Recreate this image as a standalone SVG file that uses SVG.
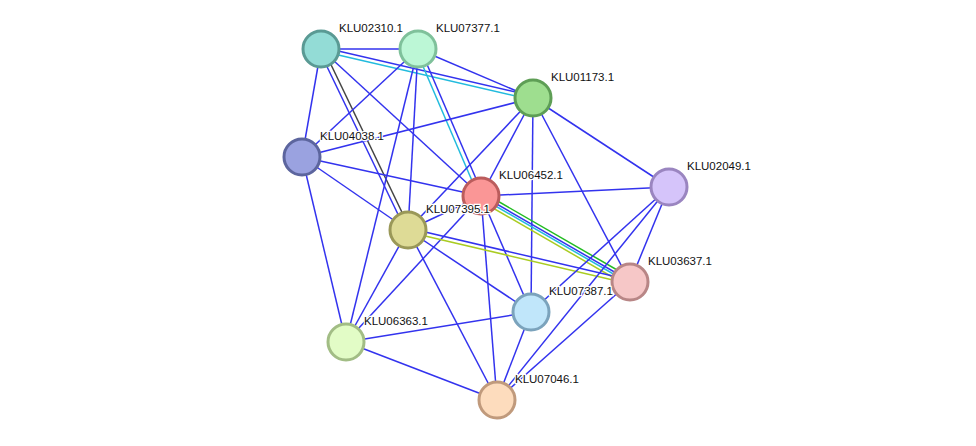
<svg xmlns="http://www.w3.org/2000/svg" width="976" height="446" viewBox="0 0 976 446">
<style>
.e{stroke:#3333ee;stroke-width:1.5;fill:none}
.n{stroke-width:3}
text{font-family:"Liberation Sans",Arial,sans-serif;font-size:11.5px;fill:#111;paint-order:stroke;stroke:#fff;stroke-width:2.5px}
</style>
<rect width="976" height="446" fill="#fff"/>
<g id="connectors">
<line class="e" x1="321" y1="49" x2="418" y2="49"/>
<line class="e" x1="321" y1="47" x2="533" y2="96"/>
<line stroke="#22bbdd" stroke-width="1.5" x1="321" y1="51" x2="533" y2="100"/>
<line class="e" x1="321" y1="49" x2="302" y2="157"/>
<line class="e" x1="319" y1="50" x2="406" y2="231"/>
<line stroke="#444" stroke-width="1.5" x1="323" y1="48" x2="410" y2="229"/>
<line class="e" x1="321" y1="49" x2="481" y2="196"/>
<line class="e" x1="418" y1="49" x2="533" y2="98"/>
<line class="e" x1="418" y1="49" x2="302" y2="157"/>
<line class="e" x1="420" y1="48" x2="483" y2="195"/>
<line stroke="#22bbdd" stroke-width="1.5" x1="416" y1="50" x2="479" y2="197"/>
<line class="e" x1="418" y1="49" x2="408" y2="230"/>
<line class="e" x1="418" y1="49" x2="346" y2="342"/>
<line class="e" x1="533" y1="98" x2="302" y2="157"/>
<line class="e" x1="533" y1="98" x2="481" y2="196"/>
<line class="e" x1="533" y1="98" x2="408" y2="230"/>
<line class="e" x1="533" y1="98" x2="531" y2="312"/>
<line class="e" x1="533" y1="98" x2="630" y2="282"/>
<line class="e" x1="533" y1="98" x2="669" y2="187"/>
<line class="e" x1="302" y1="157" x2="481" y2="196"/>
<line class="e" x1="302" y1="157" x2="408" y2="230"/>
<line class="e" x1="302" y1="157" x2="346" y2="342"/>
<line class="e" x1="481" y1="196" x2="669" y2="187"/>
<line class="e" x1="481" y1="196" x2="408" y2="230"/>
<line stroke="#22bb22" stroke-width="1.5" x1="482" y1="192" x2="631" y2="278"/>
<line class="e" x1="481" y1="195" x2="630" y2="281"/>
<line stroke="#22bbdd" stroke-width="1.5" x1="480" y1="197" x2="629" y2="283"/>
<line stroke="#aacc22" stroke-width="1.5" x1="479" y1="200" x2="628" y2="286"/>
<line class="e" x1="481" y1="196" x2="531" y2="312"/>
<line class="e" x1="481" y1="196" x2="497" y2="400"/>
<line class="e" x1="481" y1="196" x2="346" y2="342"/>
<line class="e" x1="408" y1="228" x2="630" y2="280"/>
<line stroke="#aacc22" stroke-width="1.5" x1="408" y1="232" x2="630" y2="284"/>
<line class="e" x1="408" y1="230" x2="531" y2="312"/>
<line class="e" x1="408" y1="230" x2="346" y2="342"/>
<line class="e" x1="408" y1="230" x2="497" y2="400"/>
<line class="e" x1="669" y1="187" x2="630" y2="282"/>
<line class="e" x1="669" y1="187" x2="531" y2="312"/>
<line class="e" x1="669" y1="187" x2="497" y2="400"/>
<line class="e" x1="630" y1="282" x2="497" y2="400"/>
<line class="e" x1="531" y1="312" x2="346" y2="342"/>
<line class="e" x1="531" y1="312" x2="497" y2="400"/>
<line class="e" x1="346" y1="342" x2="497" y2="400"/>
</g>
<g id="KLU02310.1"><circle class="n" cx="321" cy="49" r="18" fill="#93dcd6" stroke="#5a9a94"/><text x="339" y="32">KLU02310.1</text></g>
<g id="KLU07377.1"><circle class="n" cx="418" cy="49" r="18" fill="#bcf7d6" stroke="#7fc19b"/><text x="436" y="32">KLU07377.1</text></g>
<g id="KLU01173.1"><circle class="n" cx="533" cy="98" r="18" fill="#9ede8f" stroke="#5e9e55"/><text x="551" y="81">KLU01173.1</text></g>
<g id="KLU04038.1"><circle class="n" cx="302" cy="157" r="18" fill="#9aa2e0" stroke="#5c659e"/><text x="320" y="140">KLU04038.1</text></g>
<g id="KLU06452.1"><circle class="n" cx="481" cy="196" r="18" fill="#fa9696" stroke="#bb5c5c"/><text x="499" y="179">KLU06452.1</text></g>
<g id="KLU02049.1"><circle class="n" cx="669" cy="187" r="18" fill="#d5c4fa" stroke="#9a85c0"/><text x="687" y="170">KLU02049.1</text></g>
<g id="KLU07395.1"><circle class="n" cx="408" cy="230" r="18" fill="#dedb96" stroke="#9a9858"/><text x="426" y="213">KLU07395.1</text></g>
<g id="KLU03637.1"><circle class="n" cx="630" cy="282" r="18" fill="#f6c7c7" stroke="#b88686"/><text x="648" y="265">KLU03637.1</text></g>
<g id="KLU07387.1"><circle class="n" cx="531" cy="312" r="18" fill="#c0e6fa" stroke="#7ba3bc"/><text x="549" y="295">KLU07387.1</text></g>
<g id="KLU06363.1"><circle class="n" cx="346" cy="342" r="18" fill="#e2fcc6" stroke="#a2bd85"/><text x="364" y="325">KLU06363.1</text></g>
<g id="KLU07046.1"><circle class="n" cx="497" cy="400" r="18" fill="#fddcbd" stroke="#c09a7c"/><text x="515" y="383">KLU07046.1</text></g>
</svg>
